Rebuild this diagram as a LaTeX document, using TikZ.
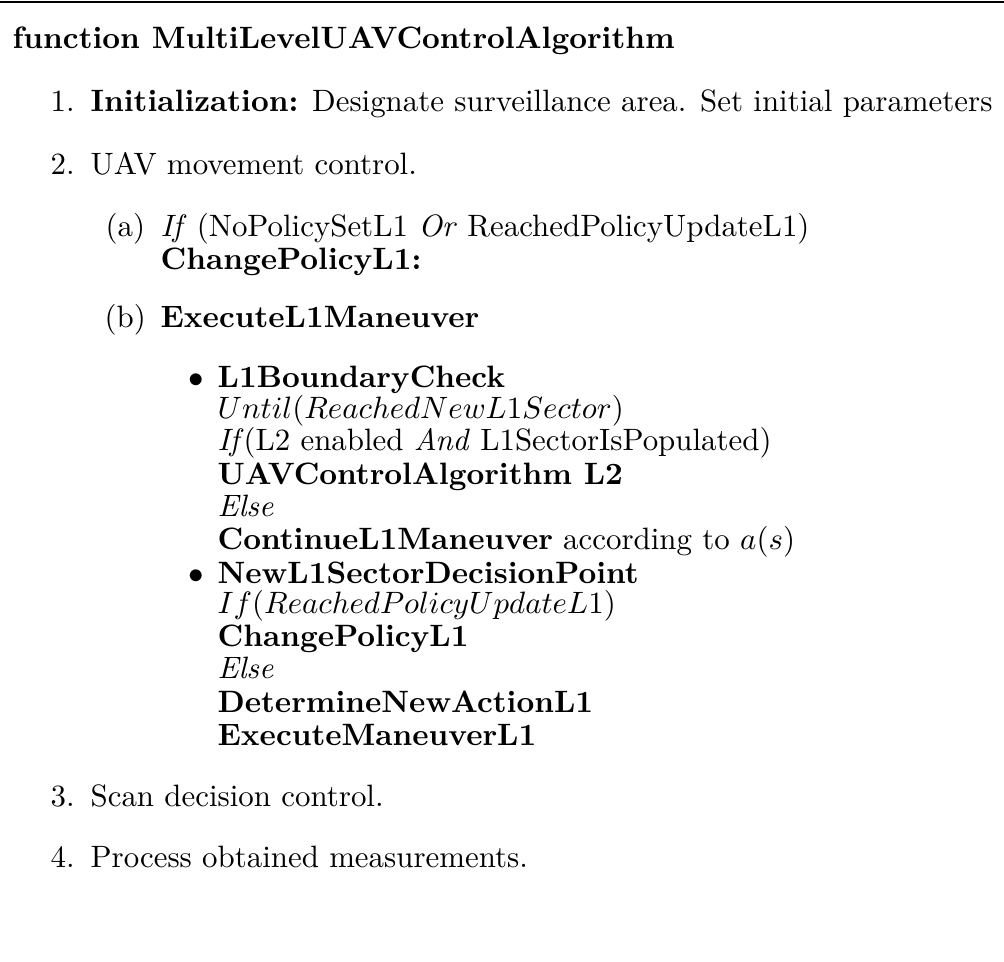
\documentclass[tikz,border=0pt]{standalone}
\usepackage{amsmath,amssymb}
\usepackage{tikz}
\usetikzlibrary{positioning}

\begin{document}
\begin{tikzpicture}[x=0.3236pt, y=-0.3236pt, line/.style = {anchor=base west, inner sep=0pt}]
\useasboundingbox (0,0) rectangle (1004,961);
% rule on top
\coordinate (tl) at (0,2);
\coordinate (tr) at (1004,2);
\draw[line width=0.8pt] (tl) -- (tr);
\node[line] (title) at (12,49) {\textbf{function MultiLevelUAVControlAlgorithm}};
% numbered steps
\node[line] (n1) at (50,112) {1.};
\node[line] (s1) at (90,112) {\textbf{Initialization:} Designate surveillance area. Set initial parameters};
\node[line] (n2) at (50,174) {2.};
\node[line] (s2) at (90,174) {UAV movement control.};
\node[line] (na) at (105,236) {(a)};
\node[line] (sa) at (160,236) {\textit{If} (NoPolicySetL1 \textit{Or} ReachedPolicyUpdateL1)};
\node[line] (sa2) at (160,269) {\textbf{ChangePolicyL1:}};
\node[line] (nb) at (104,327) {(b)};
\node[line] (sb) at (160,327) {\textbf{ExecuteL1Maneuver}};
% first bullet
\node[line] (b1) at (188,387) {$\bullet$};
\node[line] (c1) at (217,387) {\textbf{L1BoundaryCheck}};
\node[line] (c2) at (217,418) {$Until(ReachedNewL1Sector)$};
\node[line] (c3) at (217,450) {\textit{If}(L2 enabled \textit{And} L1SectorIsPopulated)};
\node[line] (c4) at (217,484) {\textbf{UAVControlAlgorithm L2}};
\node[line] (c5) at (217,516) {\textit{Else}};
\node[line] (c6) at (217,549) {\textbf{ContinueL1Maneuver} according to $a(s)$};
% second bullet
\node[line] (b2) at (188,583) {$\bullet$};
\node[line] (d1) at (217,583) {\textbf{NewL1SectorDecisionPoint}};
\node[line] (d2) at (217,613) {$If(ReachedPolicyUpdateL1)$};
\node[line] (d3) at (217,646) {\textbf{ChangePolicyL1}};
\node[line] (d4) at (217,678) {\textit{Else}};
\node[line] (d5) at (217,712) {\textbf{DetermineNewActionL1}};
\node[line] (d6) at (217,745) {\textbf{ExecuteManeuverL1}};
\node[line] (n3) at (50,806) {3.};
\node[line] (s3) at (90,806) {Scan decision control.};
\node[line] (n4) at (50,867) {4.};
\node[line] (s4) at (90,867) {Process obtained measurements.};
\end{tikzpicture}
\end{document}
